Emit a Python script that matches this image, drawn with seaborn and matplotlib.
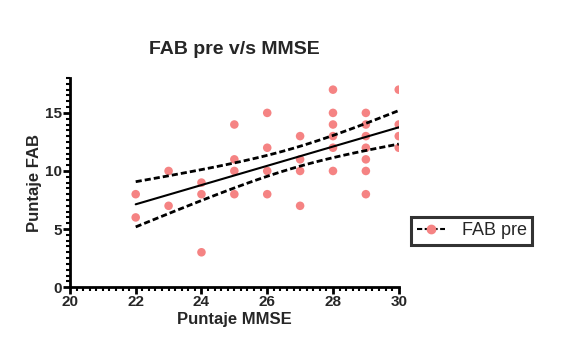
import numpy as np
import pandas as pd
import matplotlib
matplotlib.use("Agg")
import matplotlib.pyplot as plt
from matplotlib.ticker import MultipleLocator
from matplotlib.lines import Line2D
import seaborn as sns

mmse = [22, 22, 23, 23, 24, 24, 24, 25, 25, 25, 25, 26, 26, 26, 26,
        27, 27, 27, 27, 28, 28, 28, 28, 28, 28,
        29, 29, 29, 29, 29, 29, 29, 30, 30, 30, 30]
fab_pre = [8, 6, 10, 7, 9, 8, 3, 14, 11, 10, 8, 15, 12, 10, 8,
           13, 11, 10, 7, 17, 15, 14, 13, 12, 10,
           15, 14, 13, 12, 11, 10, 8, 17, 14, 13, 12]

sns.set_style("ticks")
plt.rcParams['font.family'] = ['Liberation Sans', 'DejaVu Sans']

df = pd.DataFrame({"x": mmse, "y": fab_pre})

# linear fit with 95% confidence band
x = np.array(mmse, float)
y = np.array(fab_pre, float)
n = len(x)
b, a = np.polyfit(x, y, 1)
resid = y - (a + b * x)
s = np.sqrt(np.sum(resid ** 2) / (n - 2))
xs = np.linspace(22, 30, 100)
yfit = a + b * xs
t = 2.032
se = s * np.sqrt(1 / n + (xs - x.mean()) ** 2 / np.sum((x - x.mean()) ** 2))
fit = pd.DataFrame({"x": xs, "fit": yfit, "lo": yfit - t * se, "hi": yfit + t * se})

fig = plt.figure(figsize=(5.64, 3.58), dpi=100)
ax = fig.add_axes([0.124, 0.198, 0.583, 0.584])

color = "#F58383"
dash = (0, (2.2, 1.1))
sns.scatterplot(data=df, x="x", y="y", ax=ax, color=color, s=38, edgecolor="none", zorder=2)
sns.lineplot(data=fit, x="x", y="fit", ax=ax, color="black", lw=1.5, zorder=3)
sns.lineplot(data=fit, x="x", y="lo", ax=ax, color="black", lw=2.0, ls=dash, zorder=3)
sns.lineplot(data=fit, x="x", y="hi", ax=ax, color="black", lw=2.0, ls=dash, zorder=3)

ax.set_xlim(20, 30)
ax.set_ylim(0, 18)
ax.xaxis.set_major_locator(MultipleLocator(2))
ax.xaxis.set_minor_locator(MultipleLocator(0.2))
ax.yaxis.set_major_locator(MultipleLocator(5))
ax.yaxis.set_minor_locator(MultipleLocator(0.5))
ax.tick_params(axis="both", which="major", length=5, width=2, labelsize=11, pad=1, color="black")
ax.tick_params(axis="both", which="minor", length=3, width=1.5, color="black")
for lab in ax.get_xticklabels() + ax.get_yticklabels():
    lab.set_fontweight("bold")
for sp in ["left", "bottom"]:
    ax.spines[sp].set_linewidth(2)
    ax.spines[sp].set_color("black")
sns.despine(ax=ax)

ax.set_xlabel("Puntaje MMSE", fontsize=12, fontweight="bold", labelpad=2)
ax.set_ylabel("Puntaje FAB", fontsize=12, fontweight="bold", labelpad=2)
ax.set_title("FAB pre v/s MMSE", fontsize=14, fontweight="bold", pad=17)

handle = Line2D([0], [0], color="black", lw=1.5, ls=(0, (2.5, 1.2)), marker="o",
                markerfacecolor=color, markeredgecolor=color, markersize=6)
leg = fig.legend([handle], ["FAB pre"], loc="upper left", bbox_to_anchor=(0.713, 0.42),
                 fontsize=13, frameon=True, fancybox=False, handlelength=1.6,
                 handletextpad=0.9, borderpad=0.3, edgecolor="black")
leg.get_frame().set_linewidth(2.2)

fig.savefig("out.png", dpi=100)
